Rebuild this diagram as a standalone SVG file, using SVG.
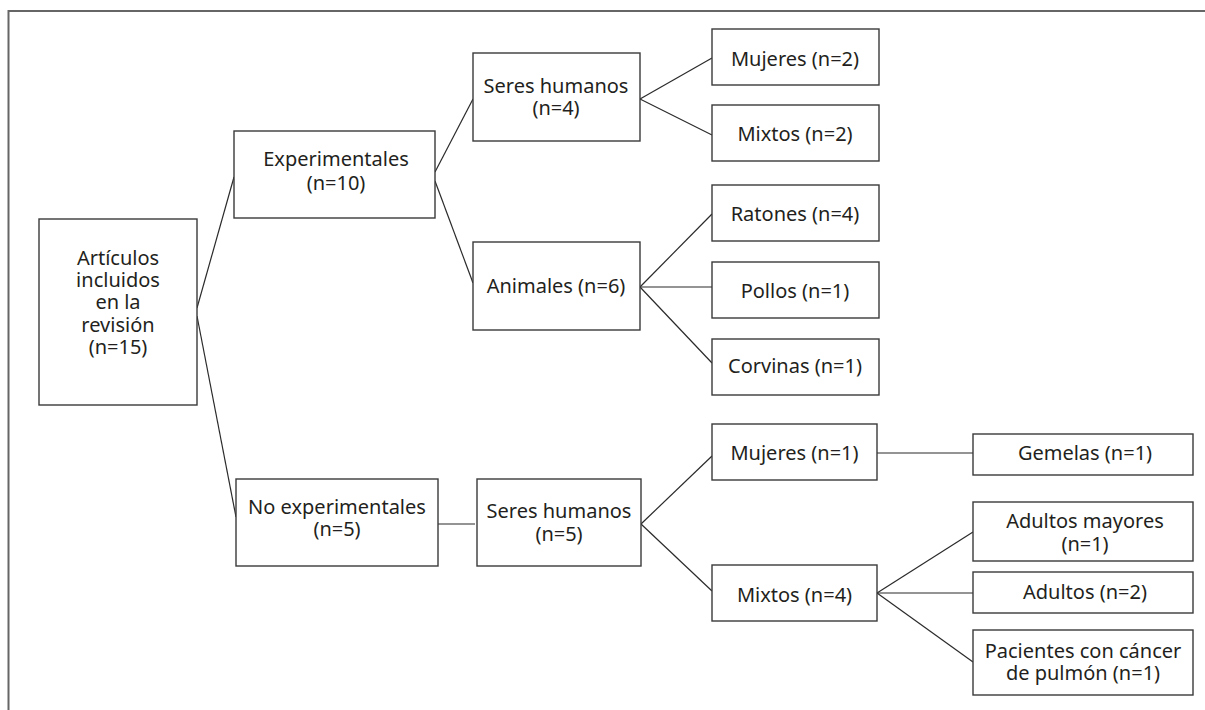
<svg xmlns="http://www.w3.org/2000/svg" width="1205" height="710" viewBox="0 0 1205 710">
<style>
.box{fill:#fff;stroke:#3a3a3a;stroke-width:1.4}
.t{font-family:"Noto Sans","Open Sans","Liberation Sans",sans-serif;font-size:20px;fill:#231f20;text-anchor:middle}
.c line{stroke:#2a2a2a;stroke-width:1.2}
</style>
<rect width="1205" height="710" fill="#fff"/>
<polyline points="8.5,710 8.5,11 1205,11" fill="none" stroke="#666" stroke-width="2"/>
<g class="c" id="connectors">
<line x1="197" y1="308" x2="234" y2="177"/>
<line x1="197" y1="316" x2="236" y2="517"/>
<line x1="435" y1="172" x2="473" y2="99"/>
<line x1="435" y1="181" x2="473" y2="283"/>
<line x1="640" y1="99" x2="712" y2="58"/>
<line x1="640" y1="99" x2="712" y2="135"/>
<line x1="640" y1="287" x2="712" y2="214"/>
<line x1="640" y1="287" x2="712" y2="287"/>
<line x1="640" y1="287" x2="712" y2="363"/>
<line x1="438" y1="524" x2="475" y2="524"/>
<line x1="641" y1="524" x2="712" y2="456"/>
<line x1="641" y1="524" x2="712" y2="591"/>
<line x1="877" y1="453" x2="973" y2="453"/>
<line x1="877" y1="593" x2="973" y2="532"/>
<line x1="877" y1="593" x2="973" y2="593"/>
<line x1="877" y1="593" x2="973" y2="662"/>
</g>
<g id="root"><rect class="box" x="39" y="219" width="158" height="186"/>
<text class="t" x="118" y="265">Artículos</text><text class="t" x="118" y="287">incluidos</text><text class="t" x="118" y="309">en la</text><text class="t" x="118" y="332">revisión</text><text class="t" x="118" y="354">(n=15)</text></g>
<g id="exp"><rect class="box" x="234" y="131" width="201" height="87"/>
<text class="t" x="336" y="166">Experimentales</text><text class="t" x="336" y="190">(n=10)</text></g>
<g id="sh4"><rect class="box" x="473" y="53" width="167" height="88"/>
<text class="t" x="556" y="93">Seres humanos</text><text class="t" x="556" y="115">(n=4)</text></g>
<g id="muj2"><rect class="box" x="712" y="29" width="167" height="56"/>
<text class="t" x="795" y="66">Mujeres (n=2)</text></g>
<g id="mix2"><rect class="box" x="712" y="105" width="167" height="56"/>
<text class="t" x="795" y="141">Mixtos (n=2)</text></g>
<g id="ratones"><rect class="box" x="712" y="185" width="167" height="56"/>
<text class="t" x="795" y="221">Ratones (n=4)</text></g>
<g id="pollos"><rect class="box" x="712" y="262" width="167" height="56"/>
<text class="t" x="795" y="298">Pollos (n=1)</text></g>
<g id="corvinas"><rect class="box" x="712" y="339" width="167" height="56"/>
<text class="t" x="795" y="373">Corvinas (n=1)</text></g>
<g id="animales"><rect class="box" x="473" y="242" width="167" height="88"/>
<text class="t" x="556" y="293">Animales (n=6)</text></g>
<g id="noexp"><rect class="box" x="236" y="479" width="202" height="87"/>
<text class="t" x="337" y="514">No experimentales</text><text class="t" x="337" y="536">(n=5)</text></g>
<g id="sh5"><rect class="box" x="477" y="479" width="164" height="87"/>
<text class="t" x="559" y="518">Seres humanos</text><text class="t" x="559" y="541">(n=5)</text></g>
<g id="muj1"><rect class="box" x="712" y="424" width="165" height="56"/>
<text class="t" x="794.5" y="460">Mujeres (n=1)</text></g>
<g id="mix4"><rect class="box" x="712" y="565" width="165" height="56"/>
<text class="t" x="794.5" y="602">Mixtos (n=4)</text></g>
<g id="gemelas"><rect class="box" x="973" y="434" width="220" height="41"/>
<text class="t" x="1085" y="460">Gemelas (n=1)</text></g>
<g id="adultosmay"><rect class="box" x="973" y="502" width="220" height="59"/>
<text class="t" x="1085" y="528">Adultos mayores</text><text class="t" x="1085" y="551">(n=1)</text></g>
<g id="adultos"><rect class="box" x="973" y="572" width="220" height="41"/>
<text class="t" x="1085" y="599">Adultos (n=2)</text></g>
<g id="pacientes"><rect class="box" x="973" y="630" width="220" height="65"/>
<text class="t" x="1083" y="658">Pacientes con cáncer</text><text class="t" x="1083" y="680">de pulmón (n=1)</text></g>
</svg>
